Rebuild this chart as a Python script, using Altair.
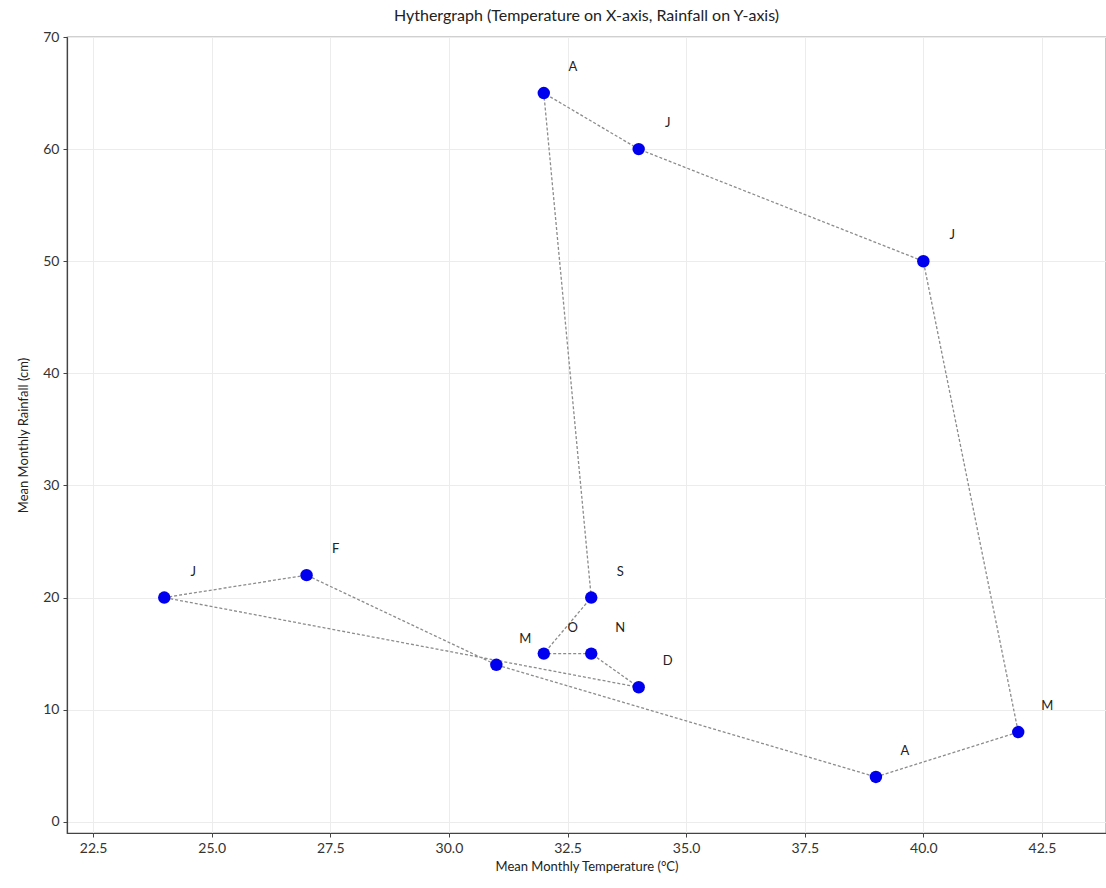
import altair as alt
import pandas as pd

# Monthly climate values, January to December
months = ["J", "F", "M", "A", "M", "J", "J", "A", "S", "O", "N", "D"]
temperature = [24, 27, 31, 39, 42, 40, 34, 32, 33, 32, 33, 34]
rainfall = [20, 22, 14, 4, 8, 50, 60, 65, 20, 15, 15, 12]

x_ticks = [22.5, 25.0, 27.5, 30.0, 32.5, 35.0, 37.5, 40.0, 42.5]
y_ticks = [0, 10, 20, 30, 40, 50, 60, 70]

points = pd.DataFrame({
    "month": months,
    "temp": temperature,
    "rain": rainfall,
    "step": list(range(len(months))),
})
# close the loop back to January
path = pd.concat([points, points.iloc[[0]].assign(step=len(months))], ignore_index=True)

FONT = "Lato"

x_scale = alt.Scale(domain=[21.95, 43.85], nice=False, zero=False)
y_scale = alt.Scale(domain=[-1, 70], nice=False, zero=False)

x_enc = alt.X(
    "temp:Q", scale=x_scale,
    axis=alt.Axis(title="Mean Monthly Temperature (°C)", values=x_ticks, format=".1f"),
)
y_enc = alt.Y(
    "rain:Q", scale=y_scale,
    axis=alt.Axis(title="Mean Monthly Rainfall (cm)", values=y_ticks, format="d"),
)

line = alt.Chart(path).mark_line(
    color="#8c8c8c", strokeWidth=1.3, strokeDash=[3, 2]
).encode(x=x_enc, y=y_enc, order="step:Q")

dots = alt.Chart(points).mark_circle(
    color="#0000ee", opacity=1, size=155
).encode(x="temp:Q", y="rain:Q")

labels = alt.Chart(points).mark_text(
    dx=29, dy=-26, fontSize=13, font=FONT, color="#222222", align="center", baseline="middle"
).encode(x="temp:Q", y="rain:Q", text="month:N")

chart = alt.layer(line, dots, labels).properties(
    width=1039,
    height=796,
    autosize="none",
    padding={"left": 67, "top": 37, "right": 0, "bottom": 55},
    title=alt.TitleParams(
        "Hythergraph (Temperature on X-axis, Rainfall on Y-axis)",
        fontSize=16, font=FONT, fontWeight="normal", color="#222222", offset=6,
    ),
).configure_view(
    stroke="#444444", strokeWidth=1.2
).configure_axis(
    gridColor="#ececec", gridWidth=1,
    domainColor="#444444", domainWidth=1.2,
    tickColor="#444444", tickSize=4,
    labelFont=FONT, labelFontSize=14, labelColor="#333333",
    titleFont=FONT, titleFontSize=13, titleFontWeight="normal", titleColor="#222222",
).configure_axisX(
    labelPadding=4, titlePadding=5
).configure_axisY(
    labelPadding=4, titlePadding=12
)

chart.save("out.html", embed_options={"renderer": "svg", "actions": False})
